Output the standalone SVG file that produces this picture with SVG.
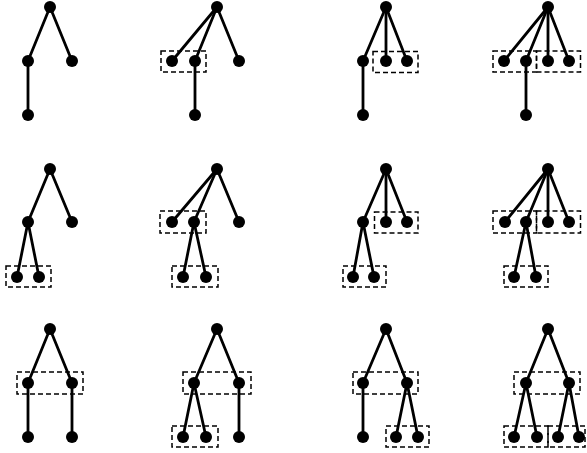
<svg xmlns="http://www.w3.org/2000/svg" width="587" height="453" viewBox="0 0 587 453">
<style>
.n{fill:#000}
.e{stroke:#000;stroke-width:2.8;fill:none;stroke-linecap:round}
.b{fill:none;stroke:#000;stroke-width:1.5;stroke-dasharray:5 3}
</style>
<rect width="587" height="453" fill="#fff"/>
<g id="connectors" class="e">
<!-- P1 -->
<line x1="50" y1="7" x2="28" y2="61"/><line x1="50" y1="7" x2="72" y2="61"/><line x1="28" y1="61" x2="28" y2="115"/>
<!-- P2 -->
<line x1="217" y1="7" x2="172" y2="61"/><line x1="217" y1="7" x2="195" y2="61"/><line x1="217" y1="7" x2="239" y2="61"/><line x1="195" y1="61" x2="195" y2="115"/>
<!-- P3 -->
<line x1="386" y1="7" x2="363" y2="61"/><line x1="386" y1="7" x2="386" y2="61"/><line x1="386" y1="7" x2="407" y2="61"/><line x1="363" y1="61" x2="363" y2="115"/>
<!-- P4 -->
<line x1="548" y1="7" x2="504" y2="61"/><line x1="548" y1="7" x2="526" y2="61"/><line x1="548" y1="7" x2="548" y2="61"/><line x1="548" y1="7" x2="569" y2="61"/><line x1="526" y1="61" x2="526" y2="115"/>
<!-- P5 -->
<line x1="50" y1="169" x2="28" y2="222"/><line x1="50" y1="169" x2="72" y2="222"/><line x1="28" y1="222" x2="17" y2="277"/><line x1="28" y1="222" x2="39" y2="277"/>
<!-- P6 -->
<line x1="217" y1="169" x2="172" y2="222"/><line x1="217" y1="169" x2="194" y2="222"/><line x1="217" y1="169" x2="239" y2="222"/><line x1="194" y1="222" x2="183" y2="277"/><line x1="194" y1="222" x2="206" y2="277"/>
<!-- P7 -->
<line x1="386" y1="169" x2="363" y2="222"/><line x1="386" y1="169" x2="386" y2="222"/><line x1="386" y1="169" x2="407" y2="222"/><line x1="363" y1="222" x2="353" y2="277"/><line x1="363" y1="222" x2="374" y2="277"/>
<!-- P8 -->
<line x1="548" y1="169" x2="505" y2="222"/><line x1="548" y1="169" x2="526" y2="222"/><line x1="548" y1="169" x2="548" y2="222"/><line x1="548" y1="169" x2="569" y2="222"/><line x1="526" y1="222" x2="514" y2="277"/><line x1="526" y1="222" x2="536" y2="277"/>
<!-- P9 -->
<line x1="50" y1="329" x2="28" y2="383"/><line x1="50" y1="329" x2="72" y2="383"/><line x1="28" y1="383" x2="28" y2="437"/><line x1="72" y1="383" x2="72" y2="437"/>
<!-- P10 -->
<line x1="217" y1="329" x2="194" y2="383"/><line x1="217" y1="329" x2="239" y2="383"/><line x1="194" y1="383" x2="183" y2="437"/><line x1="194" y1="383" x2="206" y2="437"/><line x1="239" y1="383" x2="239" y2="437"/>
<!-- P11 -->
<line x1="386" y1="329" x2="363" y2="383"/><line x1="386" y1="329" x2="407" y2="383"/><line x1="363" y1="383" x2="363" y2="437"/><line x1="407" y1="383" x2="396" y2="437"/><line x1="407" y1="383" x2="418" y2="437"/>
<!-- P12 -->
<line x1="548" y1="329" x2="526" y2="383"/><line x1="548" y1="329" x2="569" y2="383"/><line x1="526" y1="383" x2="514" y2="437"/><line x1="526" y1="383" x2="537" y2="437"/><line x1="569" y1="383" x2="558" y2="437"/><line x1="569" y1="383" x2="579" y2="437"/>
</g>
<g id="boxes" class="b">
<rect x="161" y="51" width="45" height="21"/>
<rect x="373" y="51.5" width="45" height="21"/>
<rect x="493" y="51" width="43.5" height="21"/><rect x="536.5" y="51" width="44" height="21"/>
<rect x="6" y="266" width="45" height="21"/>
<rect x="160" y="211" width="46" height="22"/><rect x="172" y="266" width="46" height="21"/>
<rect x="374.5" y="212" width="43.5" height="21"/><rect x="343" y="266" width="43" height="21"/>
<rect x="493" y="211" width="43.5" height="22"/><rect x="536.5" y="211" width="44" height="22"/><rect x="504" y="266" width="44" height="21"/>
<rect x="17" y="372" width="66" height="22"/>
<rect x="183" y="372" width="68" height="22"/><rect x="172" y="426" width="46" height="21"/>
<rect x="353" y="372" width="65" height="22"/><rect x="386" y="426" width="43" height="21"/>
<rect x="514" y="372" width="66" height="22"/><rect x="504" y="426" width="44" height="21"/><rect x="548" y="426" width="37" height="21"/>
</g>
<g id="n1r"><circle class="n" cx="50" cy="7" r="6"/></g>
<g id="n1a"><circle class="n" cx="28" cy="61" r="6"/></g>
<g id="n1b"><circle class="n" cx="72" cy="61" r="6"/></g>
<g id="n1c"><circle class="n" cx="28" cy="115" r="6"/></g>
<g id="n2r"><circle class="n" cx="217" cy="7" r="6"/></g>
<g id="n2a"><circle class="n" cx="172" cy="61" r="6"/></g>
<g id="n2b"><circle class="n" cx="195" cy="61" r="6"/></g>
<g id="n2d"><circle class="n" cx="239" cy="61" r="6"/></g>
<g id="n2c"><circle class="n" cx="195" cy="115" r="6"/></g>
<g id="n3r"><circle class="n" cx="386" cy="7" r="6"/></g>
<g id="n3a"><circle class="n" cx="363" cy="61" r="6"/></g>
<g id="n3b"><circle class="n" cx="386" cy="61" r="6"/></g>
<g id="n3d"><circle class="n" cx="407" cy="61" r="6"/></g>
<g id="n3c"><circle class="n" cx="363" cy="115" r="6"/></g>
<g id="n4r"><circle class="n" cx="548" cy="7" r="6"/></g>
<g id="n4a"><circle class="n" cx="504" cy="61" r="6"/></g>
<g id="n4b"><circle class="n" cx="526" cy="61" r="6"/></g>
<g id="n4d"><circle class="n" cx="548" cy="61" r="6"/></g>
<g id="n4e"><circle class="n" cx="569" cy="61" r="6"/></g>
<g id="n4c"><circle class="n" cx="526" cy="115" r="6"/></g>
<g id="n5r"><circle class="n" cx="50" cy="169" r="6"/></g>
<g id="n5a"><circle class="n" cx="28" cy="222" r="6"/></g>
<g id="n5b"><circle class="n" cx="72" cy="222" r="6"/></g>
<g id="n5c"><circle class="n" cx="17" cy="277" r="6"/></g>
<g id="n5d"><circle class="n" cx="39" cy="277" r="6"/></g>
<g id="n6r"><circle class="n" cx="217" cy="169" r="6"/></g>
<g id="n6a"><circle class="n" cx="172" cy="222" r="6"/></g>
<g id="n6b"><circle class="n" cx="194" cy="222" r="6"/></g>
<g id="n6e"><circle class="n" cx="239" cy="222" r="6"/></g>
<g id="n6c"><circle class="n" cx="183" cy="277" r="6"/></g>
<g id="n6d"><circle class="n" cx="206" cy="277" r="6"/></g>
<g id="n7r"><circle class="n" cx="386" cy="169" r="6"/></g>
<g id="n7a"><circle class="n" cx="363" cy="222" r="6"/></g>
<g id="n7b"><circle class="n" cx="386" cy="222" r="6"/></g>
<g id="n7e"><circle class="n" cx="407" cy="222" r="6"/></g>
<g id="n7c"><circle class="n" cx="353" cy="277" r="6"/></g>
<g id="n7d"><circle class="n" cx="374" cy="277" r="6"/></g>
<g id="n8r"><circle class="n" cx="548" cy="169" r="6"/></g>
<g id="n8a"><circle class="n" cx="505" cy="222" r="6"/></g>
<g id="n8b"><circle class="n" cx="526" cy="222" r="6"/></g>
<g id="n8e"><circle class="n" cx="548" cy="222" r="6"/></g>
<g id="n8f"><circle class="n" cx="569" cy="222" r="6"/></g>
<g id="n8c"><circle class="n" cx="514" cy="277" r="6"/></g>
<g id="n8d"><circle class="n" cx="536" cy="277" r="6"/></g>
<g id="n9r"><circle class="n" cx="50" cy="329" r="6"/></g>
<g id="n9a"><circle class="n" cx="28" cy="383" r="6"/></g>
<g id="n9b"><circle class="n" cx="72" cy="383" r="6"/></g>
<g id="n9c"><circle class="n" cx="28" cy="437" r="6"/></g>
<g id="n9d"><circle class="n" cx="72" cy="437" r="6"/></g>
<g id="n10r"><circle class="n" cx="217" cy="329" r="6"/></g>
<g id="n10a"><circle class="n" cx="194" cy="383" r="6"/></g>
<g id="n10b"><circle class="n" cx="239" cy="383" r="6"/></g>
<g id="n10c"><circle class="n" cx="183" cy="437" r="6"/></g>
<g id="n10d"><circle class="n" cx="206" cy="437" r="6"/></g>
<g id="n10e"><circle class="n" cx="239" cy="437" r="6"/></g>
<g id="n11r"><circle class="n" cx="386" cy="329" r="6"/></g>
<g id="n11a"><circle class="n" cx="363" cy="383" r="6"/></g>
<g id="n11b"><circle class="n" cx="407" cy="383" r="6"/></g>
<g id="n11c"><circle class="n" cx="363" cy="437" r="6"/></g>
<g id="n11d"><circle class="n" cx="396" cy="437" r="6"/></g>
<g id="n11e"><circle class="n" cx="418" cy="437" r="6"/></g>
<g id="n12r"><circle class="n" cx="548" cy="329" r="6"/></g>
<g id="n12a"><circle class="n" cx="526" cy="383" r="6"/></g>
<g id="n12b"><circle class="n" cx="569" cy="383" r="6"/></g>
<g id="n12c"><circle class="n" cx="514" cy="437" r="6"/></g>
<g id="n12d"><circle class="n" cx="537" cy="437" r="6"/></g>
<g id="n12e"><circle class="n" cx="558" cy="437" r="6"/></g>
<g id="n12f"><circle class="n" cx="579" cy="437" r="6"/></g>
</svg>
